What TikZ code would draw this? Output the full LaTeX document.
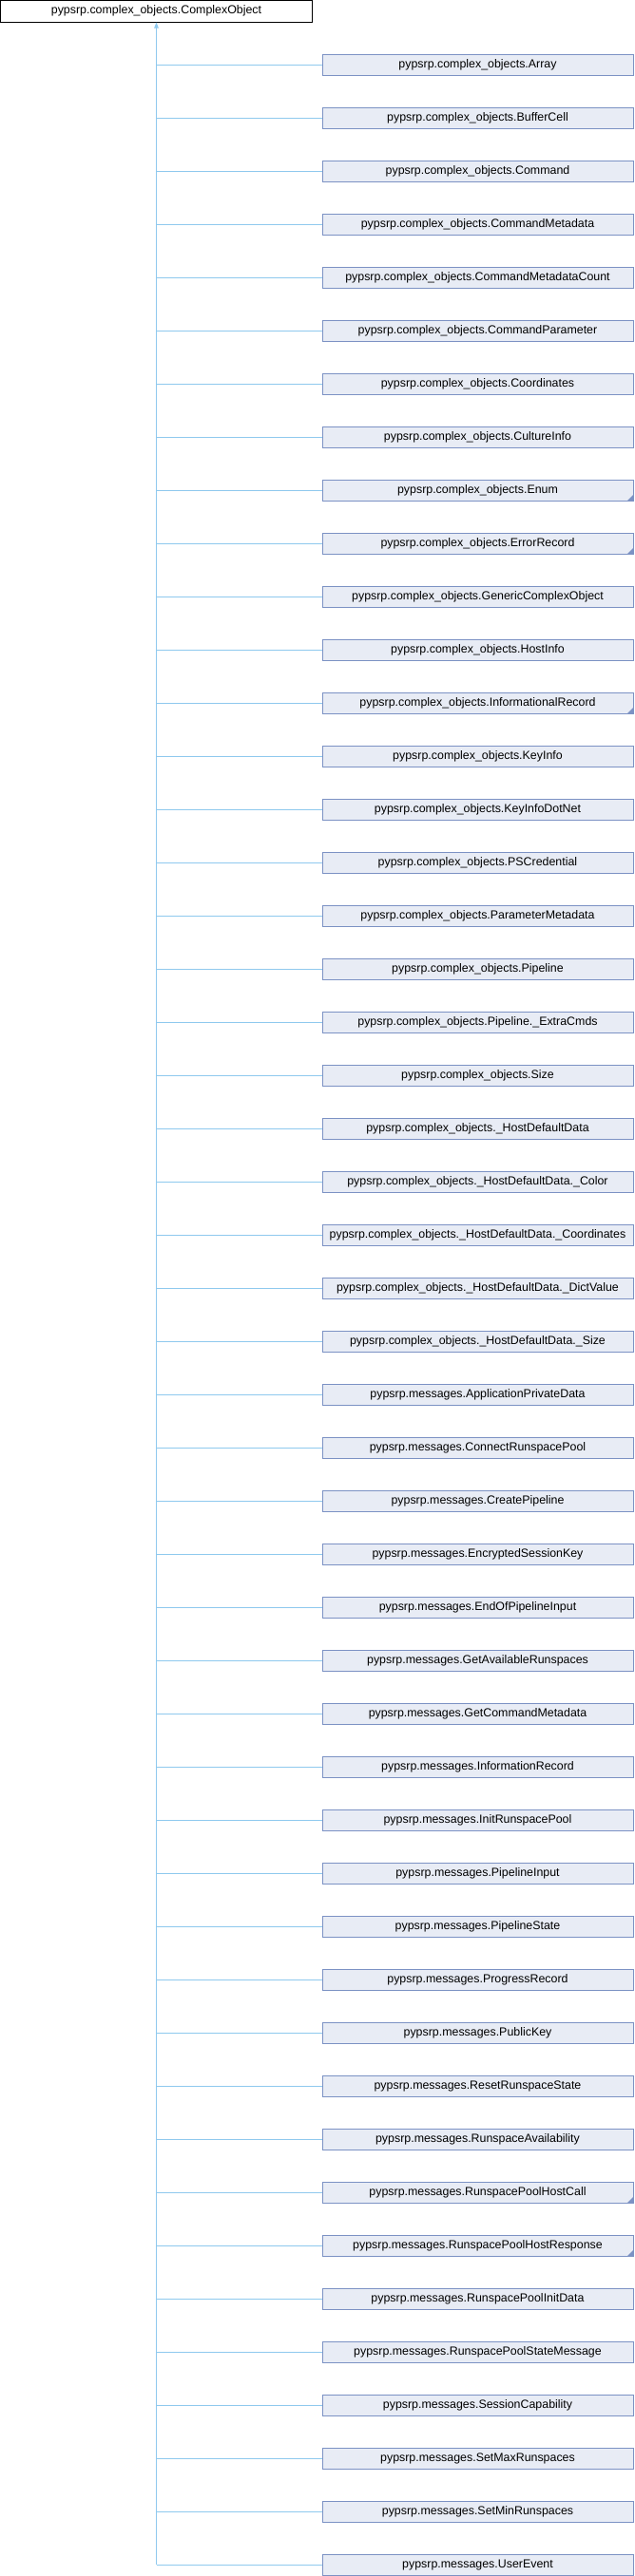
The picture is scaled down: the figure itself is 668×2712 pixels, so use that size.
\documentclass[tikz,border=0pt]{standalone}
\usepackage{fontspec}
\setmainfont{Liberation Sans}
\usepackage{xcolor}
\usepackage{tikz}
\usetikzlibrary{arrows.meta}

\definecolor{edgeblue}{RGB}{143,201,238}
\definecolor{boxline}{RGB}{124,146,196}
\definecolor{boxfill}{RGB}{232,236,245}

\tikzset{
    basebox/.style={draw=black, line width=1pt, fill=white, minimum width=328, minimum height=23, inner sep=1pt, font=\fontsize{12.4}{14}\selectfont},
    childbox/.style={draw=boxline, line width=1pt, fill=boxfill, minimum width=327, minimum height=22, inner sep=1pt, font=\fontsize{12.4}{14}\selectfont},
    childmore/.style={childbox, path picture={\fill[boxline] (path picture bounding box.south east) -- ++(-6,0) -- ++(6,6) -- cycle;}},
    edge/.style={draw=edgeblue, line width=1pt}
}

\begin{document}
\begin{tikzpicture}[x=1pt,y=1pt]
            \useasboundingbox (0,0) rectangle (668,-2712);
            %base class
            \node[basebox] (base) at (164.5,-11.5) {pypsrp.complex\_objects.ComplexObject};
            %derived classes
            \foreach \lbl/\sty [count=\i] in {
                complex\_objects.Array/childbox,
                complex\_objects.BufferCell/childbox,
                complex\_objects.Command/childbox,
                complex\_objects.CommandMetadata/childbox,
                complex\_objects.CommandMetadataCount/childbox,
                complex\_objects.CommandParameter/childbox,
                complex\_objects.Coordinates/childbox,
                complex\_objects.CultureInfo/childbox,
                complex\_objects.Enum/childmore,
                complex\_objects.ErrorRecord/childmore,
                complex\_objects.GenericComplexObject/childbox,
                complex\_objects.HostInfo/childbox,
                complex\_objects.InformationalRecord/childmore,
                complex\_objects.KeyInfo/childbox,
                complex\_objects.KeyInfoDotNet/childbox,
                complex\_objects.PSCredential/childbox,
                complex\_objects.ParameterMetadata/childbox,
                complex\_objects.Pipeline/childbox,
                complex\_objects.Pipeline.\_ExtraCmds/childbox,
                complex\_objects.Size/childbox,
                complex\_objects.\_HostDefaultData/childbox,
                complex\_objects.\_HostDefaultData.\_Color/childbox,
                complex\_objects.\_HostDefaultData.\_Coordinates/childbox,
                complex\_objects.\_HostDefaultData.\_DictValue/childbox,
                complex\_objects.\_HostDefaultData.\_Size/childbox,
                messages.ApplicationPrivateData/childbox,
                messages.ConnectRunspacePool/childbox,
                messages.CreatePipeline/childbox,
                messages.EncryptedSessionKey/childbox,
                messages.EndOfPipelineInput/childbox,
                messages.GetAvailableRunspaces/childbox,
                messages.GetCommandMetadata/childbox,
                messages.InformationRecord/childbox,
                messages.InitRunspacePool/childbox,
                messages.PipelineInput/childbox,
                messages.PipelineState/childbox,
                messages.ProgressRecord/childbox,
                messages.PublicKey/childbox,
                messages.ResetRunspaceState/childbox,
                messages.RunspaceAvailability/childbox,
                messages.RunspacePoolHostCall/childmore,
                messages.RunspacePoolHostResponse/childmore,
                messages.RunspacePoolInitData/childbox,
                messages.RunspacePoolStateMessage/childbox,
                messages.SessionCapability/childbox,
                messages.SetMaxRunspaces/childbox,
                messages.SetMinRunspaces/childbox,
                messages.UserEvent/childbox} {
                \node[\sty] (c\i) at (502.5, {-68 - 56 * (\i - 1)}) {pypsrp.\lbl};
                \draw[edge] (c\i.west) -- (c\i.west -| base.south);
            }
            %trunk
            \draw[edge, -{Triangle[length=6pt, width=4.5pt]}] (c48.west -| base.south) -- (base.south);
            %
        \end{tikzpicture}
\end{document}
